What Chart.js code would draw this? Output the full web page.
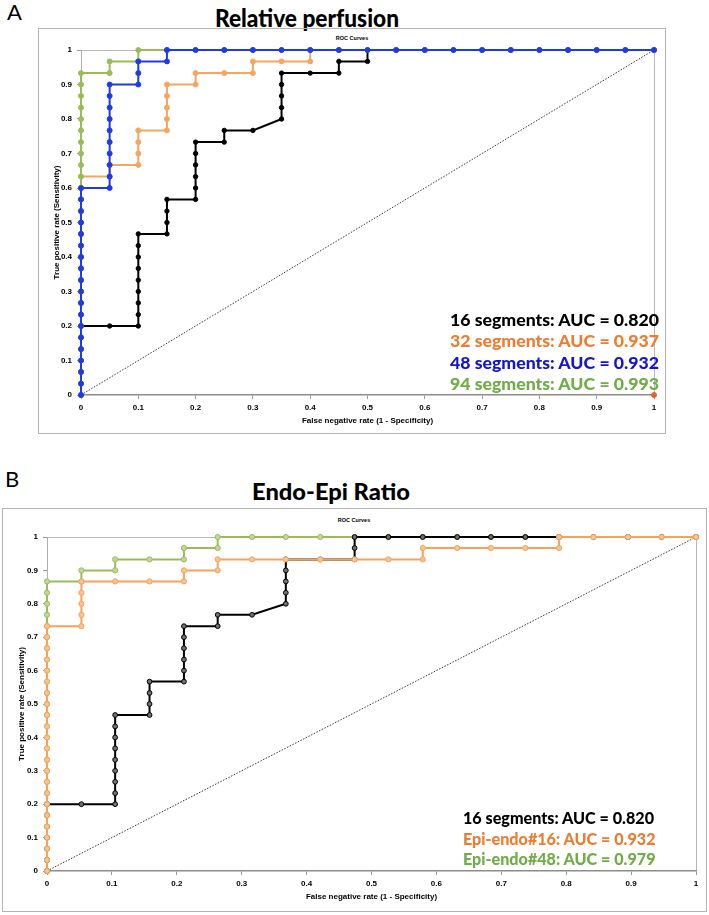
<!DOCTYPE html>
<html><head><meta charset="utf-8">
<script src="https://cdn.jsdelivr.net/npm/chart.js@4.4.1/dist/chart.umd.min.js"></script>
<style>
body{margin:0;width:709px;height:915px;background:#fff;position:relative;overflow:hidden;font-family:Lato,sans-serif}
.t{position:absolute;white-space:nowrap;line-height:1;font-weight:bold}
.box{position:absolute;border:1px solid #b4b4b4;box-sizing:border-box}
canvas{position:absolute}
</style></head><body>

<div class="t" style="left:7px;top:1px;font-size:22px;font-weight:normal;font-family:Lato">A</div>
<div class="t fit" data-c="307" data-y="17" data-w="184" style="font-size:25px;font-weight:900">Relative perfusion</div>
<div class="box" style="left:38px;top:28px;width:628px;height:406px"></div>
<div class="t" style="left:352px;top:39px;transform:translate(-50%,-50%);font-size:5.5px;font-family:'Liberation Sans'">ROC Curves</div>
<canvas id="cA" width="628" height="406" style="left:38px;top:28px"></canvas>

<div class="t" style="left:5px;top:468px;font-size:22px;font-weight:normal;font-family:Lato">B</div>
<div class="t fit" data-c="331" data-y="491" data-w="158" style="font-size:23px;font-weight:900">Endo-Epi Ratio</div>
<div class="box" style="left:2px;top:508px;width:705px;height:404px"></div>
<div class="t" style="left:354px;top:521px;transform:translate(-50%,-50%);font-size:5.5px;font-family:'Liberation Sans'">ROC Curves</div>
<canvas id="cB" width="705" height="404" style="left:2px;top:508px"></canvas>

<div id="legA"></div>
<div id="legB"></div>

<script>
// ---------- tick labels ----------
const xTickVals = [0,0.1,0.2,0.3,0.4,0.5,0.6,0.7,0.8,0.9,1];
const xTickLabels = ['0','0.1','0.2','0.3','0.4','0.5','0.6','0.7','0.8','0.9','1'];
const yTickVals = [0,0.1,0.2,0.3,0.4,0.5,0.6,0.7,0.8,0.9,1];
const yTickLabels = ['0','0.1','0.2','0.3','0.4','0.5','0.6','0.7','0.8','0.9','1'];

// ---------- Panel A: Relative perfusion ----------
const seg16X = [0,0,0,0,0,0,0, 0.05, 0.1,0.1,0.1,0.1,0.1,0.1,0.1,0.1,0.1, 0.15,0.15,0.15,0.15, 0.2,0.2,0.2,0.2,0.2,0.2, 0.25,0.25, 0.3, 0.35,0.35,0.35,0.35,0.35, 0.4, 0.45,0.45, 0.5,0.5, 0.55,0.6,0.65,0.7,0.75,0.8,0.85,0.9,0.95,1];
const seg16Y = [0,0.033,0.067,0.1,0.133,0.167,0.2, 0.2, 0.2,0.233,0.267,0.3,0.333,0.367,0.4,0.433,0.467, 0.467,0.5,0.533,0.567, 0.567,0.6,0.633,0.667,0.7,0.733, 0.733,0.767, 0.767, 0.8,0.833,0.867,0.9,0.933, 0.933, 0.933,0.967, 0.967,1, 1,1,1,1,1,1,1,1,1,1];

const seg32X = [0,0,0,0,0,0,0,0,0,0,0,0,0,0,0,0,0,0,0,0, 0.05,0.05, 0.1,0.1,0.1,0.1, 0.15,0.15,0.15,0.15,0.15, 0.2,0.2, 0.25, 0.3,0.3, 0.35, 0.4,0.4, 0.45,0.5,0.55,0.6,0.65,0.7,0.75,0.8,0.85,0.9,0.95,1];
const seg32Y = [0,0.033,0.067,0.1,0.133,0.167,0.2,0.233,0.267,0.3,0.333,0.367,0.4,0.433,0.467,0.5,0.533,0.567,0.6,0.633, 0.633,0.667, 0.667,0.7,0.733,0.767, 0.767,0.8,0.833,0.867,0.9, 0.9,0.933, 0.933, 0.933,0.967, 0.967, 0.967,1, 1,1,1,1,1,1,1,1,1,1,1,1];

const seg48X = [0,0,0,0,0,0,0,0,0,0,0,0,0,0,0,0,0,0,0, 0.05,0.05,0.05,0.05,0.05,0.05,0.05,0.05,0.05,0.05, 0.1,0.1,0.1, 0.15,0.15, 0.2,0.25,0.3,0.35,0.4,0.45,0.5,0.55,0.6,0.65,0.7,0.75,0.8,0.85,0.9,0.95,1];
const seg48Y = [0,0.033,0.067,0.1,0.133,0.167,0.2,0.233,0.267,0.3,0.333,0.367,0.4,0.433,0.467,0.5,0.533,0.567,0.6, 0.6,0.633,0.667,0.7,0.733,0.767,0.8,0.833,0.867,0.9, 0.9,0.933,0.967, 0.967,1, 1,1,1,1,1,1,1,1,1,1,1,1,1,1,1,1,1];

const seg94X = [0,0,0,0,0,0,0,0,0,0,0,0,0,0,0,0,0,0,0,0,0,0,0,0,0,0,0,0,0, 0.05,0.05, 0.1,0.1, 0.15,0.2,0.25,0.3,0.35,0.4,0.45,0.5,0.55,0.6,0.65,0.7,0.75,0.8,0.85,0.9,0.95,1];
const seg94Y = [0,0.033,0.067,0.1,0.133,0.167,0.2,0.233,0.267,0.3,0.333,0.367,0.4,0.433,0.467,0.5,0.533,0.567,0.6,0.633,0.667,0.7,0.733,0.767,0.8,0.833,0.867,0.9,0.933, 0.933,0.967, 0.967,1, 1,1,1,1,1,1,1,1,1,1,1,1,1,1,1,1,1,1];

const refX = [0,1];
const refY = [0,1];
const cornerX = [1];
const cornerY = [0];

// ---------- Panel B: Endo-Epi Ratio ----------
const b16X = [0,0,0,0,0,0,0, 0.053, 0.105,0.105,0.105,0.105,0.105,0.105,0.105,0.105,0.105, 0.158,0.158,0.158,0.158, 0.211,0.211,0.211,0.211,0.211,0.211, 0.263,0.263, 0.316, 0.368,0.368,0.368,0.368,0.368, 0.421, 0.474,0.474,0.474, 0.526,0.579,0.632,0.684,0.737,0.789,0.842,0.895,0.947,1];
const b16Y = [0,0.033,0.067,0.1,0.133,0.167,0.2, 0.2, 0.2,0.233,0.267,0.3,0.333,0.367,0.4,0.433,0.467, 0.467,0.5,0.533,0.567, 0.567,0.6,0.633,0.667,0.7,0.733, 0.733,0.767, 0.767, 0.8,0.833,0.867,0.9,0.933, 0.933, 0.933,0.967,1, 1,1,1,1,1,1,1,1,1,1];

const epi16X = [0,0,0,0,0,0,0,0,0,0,0,0,0,0,0,0,0,0,0,0,0,0,0, 0.053,0.053,0.053,0.053,0.053, 0.105, 0.158, 0.211,0.211, 0.263,0.263, 0.316,0.368,0.421,0.474,0.526, 0.579,0.579, 0.632,0.684,0.737, 0.789,0.789, 0.842,0.895,0.947,1];
const epi16Y = [0,0.033,0.067,0.1,0.133,0.167,0.2,0.233,0.267,0.3,0.333,0.367,0.4,0.433,0.467,0.5,0.533,0.567,0.6,0.633,0.667,0.7,0.733, 0.733,0.767,0.8,0.833,0.867, 0.867, 0.867, 0.867,0.9, 0.9,0.933, 0.933,0.933,0.933,0.933,0.933, 0.933,0.967, 0.967,0.967,0.967, 0.967,1, 1,1,1,1];

const epi48X = [0,0,0,0,0,0,0,0,0,0,0,0,0,0,0,0,0,0,0,0,0,0,0,0,0,0,0, 0.053,0.053, 0.105,0.105, 0.158, 0.211,0.211, 0.263,0.263, 0.316,0.368,0.421,0.474,0.526,0.579,0.632,0.684,0.737,0.789,0.842,0.895,0.947,1];
const epi48Y = [0,0.033,0.067,0.1,0.133,0.167,0.2,0.233,0.267,0.3,0.333,0.367,0.4,0.433,0.467,0.5,0.533,0.567,0.6,0.633,0.667,0.7,0.733,0.767,0.8,0.833,0.867, 0.867,0.9, 0.9,0.933, 0.933, 0.933,0.967, 0.967,1, 1,1,1,1,1,1,1,1,1,1,1,1,1,1];

// ---------- legend texts ----------
const legendA = ['16 segments: AUC = 0.820','32 segments: AUC = 0.937','48 segments: AUC = 0.932','94 segments: AUC = 0.993'];
const legendAColors = ['#000000','#ED7D31','#1414D2','#70AD47'];
const legendB = ['16 segments: AUC = 0.820','Epi-endo#16: AUC = 0.932','Epi-endo#48: AUC = 0.979'];
const legendBColors = ['#000000','#ED7D31','#70AD47'];

const xTitle = 'False negative rate (1 - Specificity)';
const yTitle = 'True positive rate (Sensitivity)';

function pts(xs, ys){ return xs.map((x,i)=>({x:x, y:ys[i]})); }

function series(xs, ys, line, fill, radius){
  return {data: pts(xs, ys), showLine:true, borderColor:line, backgroundColor:fill, pointBorderColor:line,
    pointBackgroundColor:fill, borderWidth:2, pointRadius:radius, pointBorderWidth:1, clip:false, tension:0};
}
function refLine(){
  return {data: pts(refX, refY), showLine:true, borderColor:'#333', borderWidth:1, borderDash:[1.5,1.5],
    pointRadius:0, clip:false};
}
const tickFont = {family:'Liberation Sans', weight:'bold', size:8};

function makeChart(id, datasets, cfg){
  return new Chart(document.getElementById(id), {
    type:'scatter',
    data:{datasets:datasets},
    options:{
      responsive:false, animation:false, devicePixelRatio:1,
      plugins:{legend:{display:false}, tooltip:{enabled:false}, title:{display:false}},
      layout:{padding:{left:cfg.padL, right:cfg.padR, top:cfg.padT, bottom:0}},
      scales:{
        x:{type:'linear', min:0, max:1,
          afterBuildTicks:s=>{ s.ticks = xTickVals.map(v=>({value:v})); },
          afterFit:s=>{ s.height = cfg.xH; },
          ticks:{callback:(v,i)=>xTickLabels[i], font:tickFont, color:'#000', padding:4, maxRotation:0, autoSkip:false},
          grid:{color:c=>(c.tick && Math.abs(c.tick.value-1)<1e-6)?'#b8b8b8':'rgba(0,0,0,0)', tickColor:'#999', tickLength:4, lineWidth:1},
          border:{color:'#8c8c8c', width:1.5},
          title:{display:true, text:xTitle, color:'#000', font:tickFont, padding:{top:0,bottom:cfg.xTitlePad}}
        },
        y:{type:'linear', min:0, max:1,
          afterBuildTicks:s=>{ s.ticks = yTickVals.map(v=>({value:v})); },
          afterFit:s=>{ s.width = cfg.yW; },
          ticks:{callback:(v,i)=>yTickLabels[i], font:tickFont, color:'#000', padding:5, autoSkip:false},
          grid:{color:c=>(c.tick && Math.abs(c.tick.value-1)<1e-6)?'#b8b8b8':'rgba(0,0,0,0)', tickColor:'#999', tickLength:4, lineWidth:1},
          border:{color:'#b0b0b0', width:1},
          title:{display:true, text:yTitle, color:'#000', font:tickFont, padding:{top:0,bottom:0}}
        }
      }
    }
  });
}

// Panel A (first dataset drawn on top)
makeChart('cA', [
  series(seg48X, seg48Y, '#1E3BE6', '#1E3BE6', 2.5),
  series(seg94X, seg94Y, '#9BBB59', '#9BBB59', 2.5),
  series(seg32X, seg32Y, '#F4A761', '#F4A761', 2.5),
  series(seg16X, seg16Y, '#000000', '#000000', 2.2),
  {data:pts(cornerX, cornerY), showLine:false, pointRadius:2.5, pointBackgroundColor:'#E8603C', pointBorderColor:'#E8603C', clip:false},
  refLine()
], {padL:14, padR:12, padT:22, xH:39, yW:29, xTitlePad:8});

// Panel B
makeChart('cB', [
  series(epi16X, epi16Y, '#F4A35A', '#F6C596', 2.6),
  series(b16X, b16Y, '#000000', '#707070', 2.4),
  series(epi48X, epi48Y, '#9BBB59', '#C3D6A0', 2.6),
  refLine()
], {padL:15, padR:11, padT:29, xH:41, yW:30, xTitlePad:10});

// squeeze text horizontally to a target width (keeps glyph height)
function squeeze(el, width){
  el.style.transformOrigin = '0 50%';
  const w = el.getBoundingClientRect().width;
  return width / w;
}
function legend(hostId, lines, colors, left, centers, width, fs){
  const host = document.getElementById(hostId);
  const els = lines.map((txt,i)=>{
    const d = document.createElement('div');
    d.className='t'; d.textContent = txt;
    d.style.cssText = `left:${left}px;top:${centers[i]}px;color:${colors[i]};font-size:${fs}px;font-family:Lato;font-weight:900`;
    host.appendChild(d); return d;
  });
  const s = squeeze(els[0], width);
  els.forEach(e=>{ e.style.transformOrigin='0 50%'; e.style.transform = `translateY(-50%) scaleX(${s})`; });
}
legend('legA', legendA, legendAColors, 450, [319,340,362,383], 209, 17);
legend('legB', legendB, legendBColors, 463, [818,839,859], 191, 16);

document.querySelectorAll('.fit').forEach(el=>{
  const target = +el.dataset.w;
  const s = squeeze(el, target);
  el.style.left = (+el.dataset.c - target/2) + 'px';
  el.style.top = el.dataset.y + 'px';
  el.style.transform = `translateY(-50%) scaleX(${s})`;
});
</script>
</body></html>
